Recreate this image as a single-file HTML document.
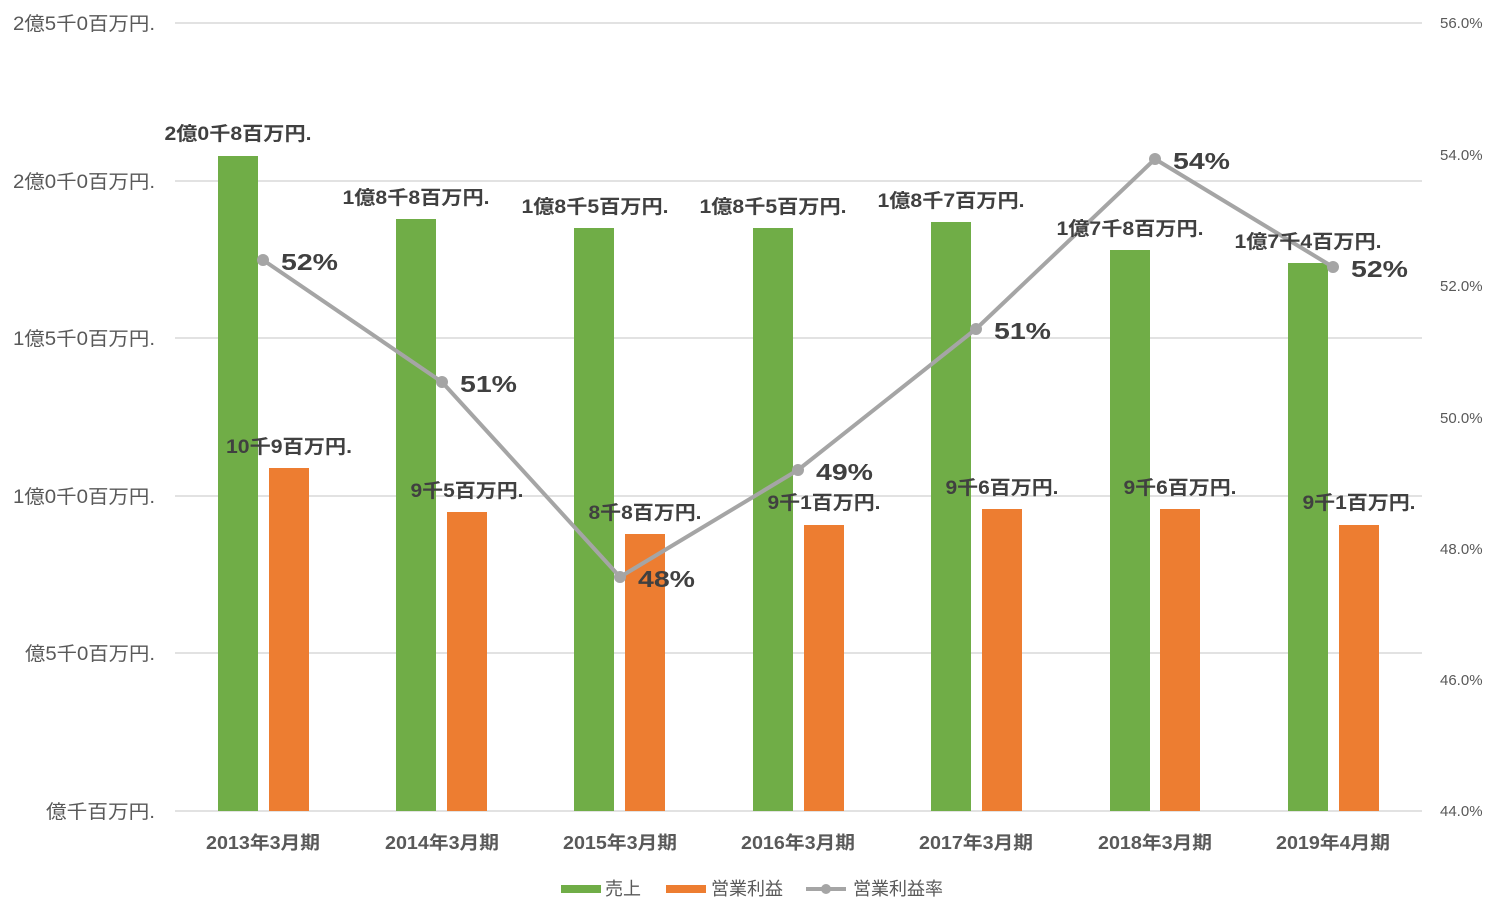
<!DOCTYPE html>
<html><head><meta charset="utf-8"><style>
body{margin:0;background:#fff;}
svg{display:block;font-family:"Liberation Sans","Noto Sans CJK JP",sans-serif;}
.ax{font-size:19px;fill:#595959;}
.rx{font-size:15px;fill:#595959;}
.dl{font-size:19px;font-weight:bold;fill:#404040;}
.pl{font-size:23px;font-weight:bold;fill:#404040;}
.xl{font-size:18px;font-weight:bold;fill:#595959;}
.lg{font-size:18px;fill:#595959;}
</style></head><body>
<svg width="1500" height="921" viewBox="0 0 1500 921">
<g stroke="#d9d9d9" stroke-width="1.5">
<line x1="175" y1="23" x2="1422" y2="23"/><line x1="175" y1="181" x2="1422" y2="181"/>
<line x1="175" y1="338" x2="1422" y2="338"/><line x1="175" y1="496" x2="1422" y2="496"/>
<line x1="175" y1="653" x2="1422" y2="653"/><line x1="175" y1="811" x2="1422" y2="811"/>
</g>
<g class="ax" text-anchor="end">
<text x="155" y="30" textLength="142" lengthAdjust="spacingAndGlyphs">2億5千0百万円.</text>
<text x="155" y="188" textLength="142" lengthAdjust="spacingAndGlyphs">2億0千0百万円.</text>
<text x="155" y="345" textLength="142" lengthAdjust="spacingAndGlyphs">1億5千0百万円.</text>
<text x="155" y="503" textLength="142" lengthAdjust="spacingAndGlyphs">1億0千0百万円.</text>
<text x="155" y="660" textLength="130" lengthAdjust="spacingAndGlyphs">億5千0百万円.</text>
<text x="155" y="818" textLength="109" lengthAdjust="spacingAndGlyphs">億千百万円.</text>
</g>
<g class="rx">
<text x="1440" y="28">56.0%</text><text x="1440" y="160">54.0%</text><text x="1440" y="291">52.0%</text>
<text x="1440" y="423">50.0%</text><text x="1440" y="554">48.0%</text><text x="1440" y="816">44.0%</text>
<text x="1440" y="685">46.0%</text>
</g>
<g fill="#70ad47">
<rect x="218" y="156" width="40" height="655"/><rect x="396" y="219" width="40" height="592"/>
<rect x="574" y="228" width="40" height="583"/><rect x="753" y="228" width="40" height="583"/>
<rect x="931" y="222" width="40" height="589"/><rect x="1110" y="250" width="40" height="561"/>
<rect x="1288" y="263" width="40" height="548"/>
</g>
<g fill="#ed7d31">
<rect x="269" y="468" width="40" height="343"/><rect x="447" y="512" width="40" height="299"/>
<rect x="625" y="534" width="40" height="277"/><rect x="804" y="525" width="40" height="286"/>
<rect x="982" y="509" width="40" height="302"/><rect x="1160" y="509" width="40" height="302"/>
<rect x="1339" y="525" width="40" height="286"/>
</g>
<polyline points="263,260 442,382 620,577 798,470 976,329 1155,159 1333,267" fill="none" stroke="#a5a5a5" stroke-width="4"/>
<g fill="#a5a5a5">
<circle cx="263" cy="260" r="6"/><circle cx="442" cy="382" r="6"/><circle cx="620" cy="577" r="6"/>
<circle cx="798" cy="470" r="6"/><circle cx="976" cy="329" r="6"/><circle cx="1155" cy="159" r="6"/><circle cx="1333" cy="267" r="6"/>
</g>
<g class="dl" text-anchor="middle">
<text x="238" y="140" textLength="147" lengthAdjust="spacingAndGlyphs">2億0千8百万円.</text>
<text x="416" y="204" textLength="147" lengthAdjust="spacingAndGlyphs">1億8千8百万円.</text>
<text x="595" y="213" textLength="147" lengthAdjust="spacingAndGlyphs">1億8千5百万円.</text>
<text x="773" y="213" textLength="147" lengthAdjust="spacingAndGlyphs">1億8千5百万円.</text>
<text x="951" y="207" textLength="147" lengthAdjust="spacingAndGlyphs">1億8千7百万円.</text>
<text x="1130" y="235" textLength="147" lengthAdjust="spacingAndGlyphs">1億7千8百万円.</text>
<text x="1308" y="248" textLength="147" lengthAdjust="spacingAndGlyphs">1億7千4百万円.</text>
<text x="289" y="453" textLength="126" lengthAdjust="spacingAndGlyphs">10千9百万円.</text>
<text x="467" y="497" textLength="113" lengthAdjust="spacingAndGlyphs">9千5百万円.</text>
<text x="645" y="519" textLength="113" lengthAdjust="spacingAndGlyphs">8千8百万円.</text>
<text x="824" y="509" textLength="113" lengthAdjust="spacingAndGlyphs">9千1百万円.</text>
<text x="1002" y="494" textLength="113" lengthAdjust="spacingAndGlyphs">9千6百万円.</text>
<text x="1180" y="494" textLength="113" lengthAdjust="spacingAndGlyphs">9千6百万円.</text>
<text x="1359" y="509" textLength="113" lengthAdjust="spacingAndGlyphs">9千1百万円.</text>
</g>
<g class="pl">
<text x="281" y="270" textLength="57" lengthAdjust="spacingAndGlyphs">52%</text>
<text x="460" y="392" textLength="57" lengthAdjust="spacingAndGlyphs">51%</text>
<text x="638" y="587" textLength="57" lengthAdjust="spacingAndGlyphs">48%</text>
<text x="816" y="480" textLength="57" lengthAdjust="spacingAndGlyphs">49%</text>
<text x="994" y="339" textLength="57" lengthAdjust="spacingAndGlyphs">51%</text>
<text x="1173" y="169" textLength="57" lengthAdjust="spacingAndGlyphs">54%</text>
<text x="1351" y="277" textLength="57" lengthAdjust="spacingAndGlyphs">52%</text>
</g>
<g class="xl" text-anchor="middle">
<text x="263" y="849" textLength="114" lengthAdjust="spacingAndGlyphs">2013年3月期</text>
<text x="442" y="849" textLength="114" lengthAdjust="spacingAndGlyphs">2014年3月期</text>
<text x="620" y="849" textLength="114" lengthAdjust="spacingAndGlyphs">2015年3月期</text>
<text x="798" y="849" textLength="114" lengthAdjust="spacingAndGlyphs">2016年3月期</text>
<text x="976" y="849" textLength="114" lengthAdjust="spacingAndGlyphs">2017年3月期</text>
<text x="1155" y="849" textLength="114" lengthAdjust="spacingAndGlyphs">2018年3月期</text>
<text x="1333" y="849" textLength="114" lengthAdjust="spacingAndGlyphs">2019年4月期</text>
</g>
<rect x="561" y="885" width="40" height="8" fill="#70ad47"/>
<text class="lg" x="605" y="895">売上</text>
<rect x="666" y="885" width="40" height="8" fill="#ed7d31"/>
<text class="lg" x="711" y="895">営業利益</text>
<line x1="806" y1="889" x2="846" y2="889" stroke="#a5a5a5" stroke-width="4"/>
<circle cx="826" cy="889" r="5" fill="#a5a5a5"/>
<text class="lg" x="853" y="895">営業利益率</text>
</svg>
</body></html>
